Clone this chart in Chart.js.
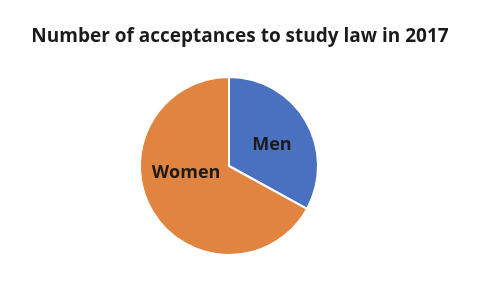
<!DOCTYPE html>
<html>
<head>
<meta charset="utf-8">
<script src="https://cdn.jsdelivr.net/npm/chart.js@4"></script>
<style>
  html, body { margin: 0; padding: 0; background: #fff; }
  #wrap { width: 480px; height: 288px; position: relative; }
</style>
</head>
<body>
<div id="wrap"><canvas id="pieChart"></canvas></div>
<script>
// data
const categories = ['Men', 'Women'];
const acceptances = [33, 67];
const sliceColors = ['#4A71BF', '#E1843F'];
const chartTitle = 'Number of acceptances to study law in 2017';

// label placement inside each slice (fraction of radius, angle shift in degrees)
const labelPlacement = [
    { dist: 0.54, shift: 4 },
    { dist: 0.49, shift: 21 }
];

const sliceLabels = {
    id: 'sliceLabels',
    afterDatasetsDraw(chart) {
        const ctx = chart.ctx;
        const meta = chart.getDatasetMeta(0);
        ctx.save();
        ctx.font = 'bold 18px "Open Sans", sans-serif';
        ctx.fillStyle = '#1b1b1b';
        ctx.textAlign = 'center';
        ctx.textBaseline = 'middle';
        meta.data.forEach((arc, i) => {
            const p = labelPlacement[i];
            const mid = (arc.startAngle + arc.endAngle) / 2 + p.shift * Math.PI / 180;
            const r = arc.outerRadius * p.dist;
            ctx.fillText(categories[i], arc.x + Math.cos(mid) * r, arc.y + Math.sin(mid) * r);
        });
        ctx.restore();
    }
};

const topTitle = {
    id: 'topTitle',
    afterDraw(chart) {
        const ctx = chart.ctx;
        ctx.save();
        ctx.font = 'bold 19px "Open Sans", sans-serif';
        ctx.fillStyle = '#1b1b1b';
        ctx.textAlign = 'center';
        ctx.textBaseline = 'middle';
        ctx.fillText(chartTitle, 240, 37);
        ctx.restore();
    }
};

new Chart(document.getElementById('pieChart'), {
    type: 'pie',
    data: {
        labels: categories,
        datasets: [{
            data: acceptances,
            backgroundColor: sliceColors,
            borderColor: '#ffffff',
            borderWidth: 2
        }]
    },
    options: {
        responsive: true,
        maintainAspectRatio: false,
        animation: false,
        layout: { padding: { top: 76, bottom: 32, left: 0, right: 22 } },
        plugins: {
            legend: { display: false },
            tooltip: { enabled: false },
            title: { display: false }
        }
    },
    plugins: [sliceLabels, topTitle]
});
</script>
</body>
</html>
